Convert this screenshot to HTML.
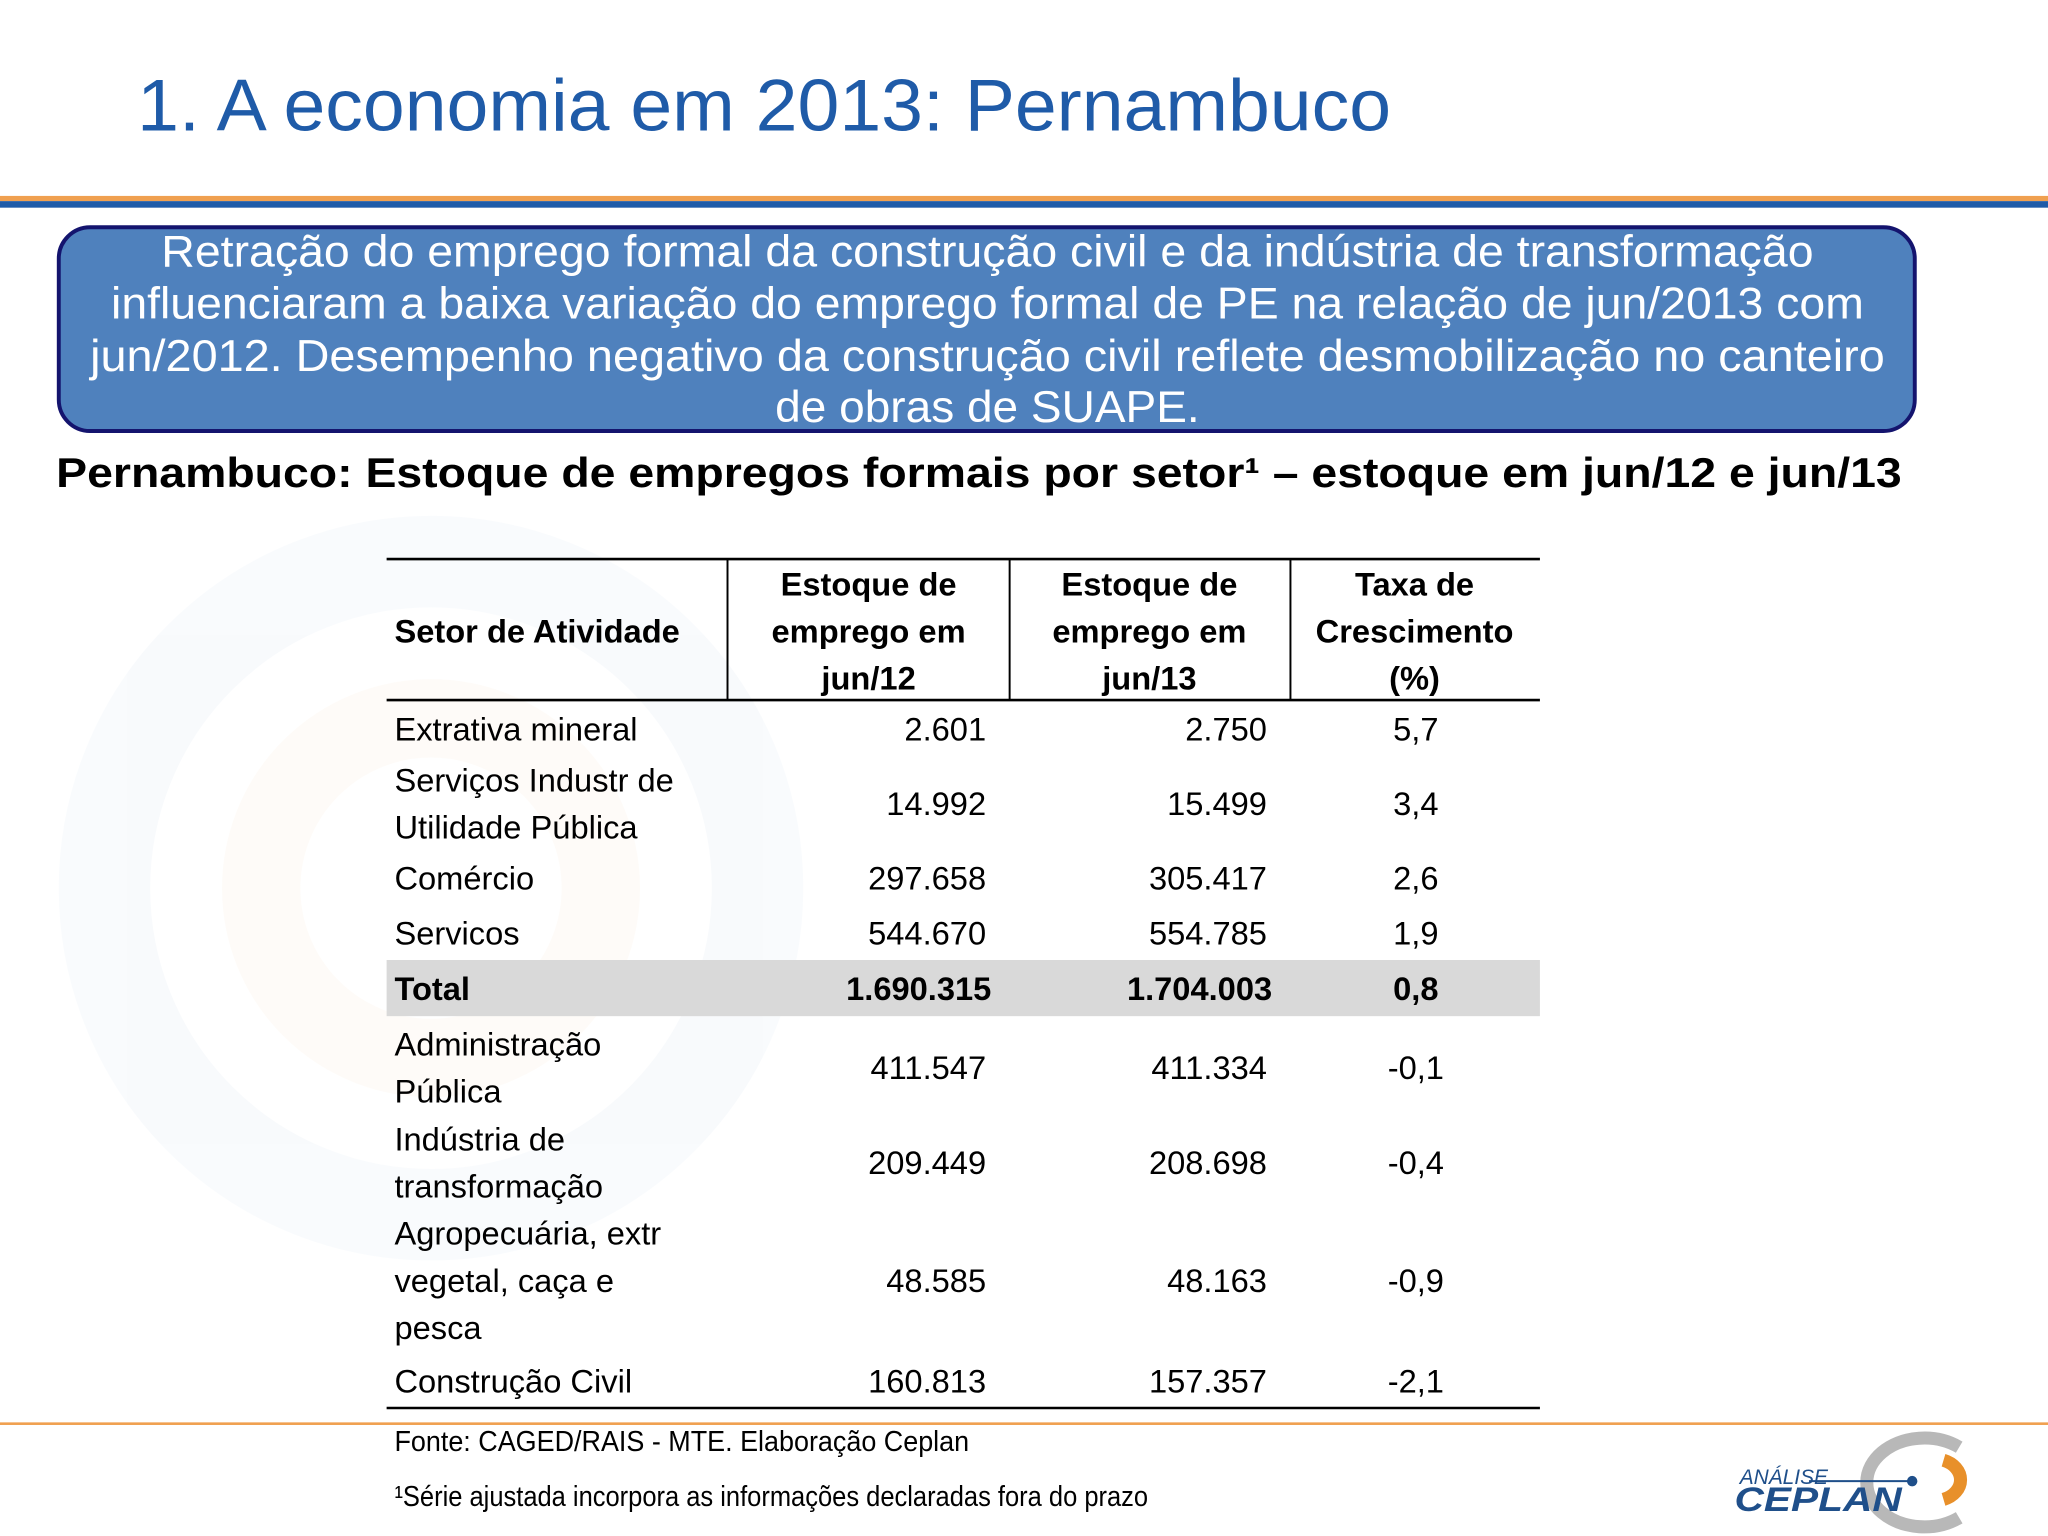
<!DOCTYPE html>
<html><head><meta charset="utf-8"><style>
html,body{margin:0;padding:0;background:#fff;}
svg{display:block;}
text{font-family:"Liberation Sans",sans-serif;}
</style></head><body>
<svg id="s" width="2048" height="1536" viewBox="0 0 1568 1176" xmlns="http://www.w3.org/2000/svg">
<g opacity="0.035">
<circle cx="330" cy="680" r="250" fill="none" stroke="#4f81bd" stroke-width="70"/>
<circle cx="330" cy="680" r="130" fill="none" stroke="#f0a050" stroke-width="60"/>
</g>
<text x="105" y="100" font-size="56" fill="#1f5ba8" textLength="960" lengthAdjust="spacingAndGlyphs">1. A economia em 2013: Pernambuco</text>
<rect x="0" y="150" width="1568" height="4" fill="#f0a050"/>
<rect x="0" y="154" width="1568" height="5" fill="#1f5ba8"/>
<g>
<rect x="45" y="174" width="1421" height="156" rx="24" fill="#4f81bd" stroke="#14146e" stroke-width="3"/>
<g font-size="34" fill="#fff" text-anchor="middle">
<text x="756" y="204" textLength="1265" lengthAdjust="spacingAndGlyphs">Retração do emprego formal da construção civil e da indústria de transformação</text>
<text x="756" y="244" textLength="1342" lengthAdjust="spacingAndGlyphs">influenciaram a baixa variação do emprego formal de PE na relação de jun/2013 com</text>
<text x="756" y="284" textLength="1374" lengthAdjust="spacingAndGlyphs">jun/2012. Desempenho negativo da construção civil  reflete desmobilização no canteiro</text>
<text x="756" y="323" textLength="325" lengthAdjust="spacingAndGlyphs">de obras de SUAPE.</text>
</g></g>
<text x="43" y="373" font-size="32" font-weight="bold" fill="#000" textLength="1413" lengthAdjust="spacingAndGlyphs">Pernambuco: Estoque de empregos formais por setor¹ – estoque em jun/12 e jun/13</text>
<g id="tbl"></g>
<rect x="0" y="1089" width="1568" height="2" fill="#f0a050"/>
<text x="302" y="1111" font-size="22" fill="#000" textLength="440" lengthAdjust="spacingAndGlyphs">Fonte: CAGED/RAIS - MTE. Elaboração Ceplan</text>
<text x="302" y="1153" font-size="22" fill="#000" textLength="577" lengthAdjust="spacingAndGlyphs">¹Série ajustada incorpora as informações declaradas fora do prazo</text>
<g>
<path d="M1500 1108 A44 34 0 1 0 1500 1162" fill="none" stroke="#b8b8b8" stroke-width="10"/>
<path d="M1488 1118 A20 16 0 0 1 1488 1148" fill="none" stroke="#e8902a" stroke-width="10"/>
<line x1="1385" y1="1134" x2="1462" y2="1134" stroke="#1f4f8a" stroke-width="1.5"/>
<circle cx="1464" cy="1134" r="4" fill="#1f4f8a"/>
<text x="1332" y="1136" font-size="16" font-style="italic" fill="#1f4f8a">ANÁLISE</text>
<text x="1328" y="1157" font-size="26" font-style="italic" font-weight="bold" fill="#1f4f8a" textLength="128" lengthAdjust="spacingAndGlyphs">CEPLAN</text>
</g>
</svg>
<script>
const sectors=[["Extrativa mineral"],["Serviços Industr de","Utilidade Pública"],["Comércio"],["Servicos"],["Total"],["Administração","Pública"],["Indústria de","transformação"],["Agropecuária, extr","vegetal, caça e","pesca"],["Construção Civil"]];
const jun12=["2.601","14.992","297.658","544.670","1.690.315","411.547","209.449","48.585","160.813"];
const jun13=["2.750","15.499","305.417","554.785","1.704.003","411.334","208.698","48.163","157.357"];
const growth=["5,7","3,4","2,6","1,9","0,8","-0,1","-0,4","-0,9","-2,1"];
const NS="http://www.w3.org/2000/svg";
const g=document.getElementById('tbl');
function mk(tag,attrs,txt){const e=document.createElementNS(NS,tag);for(const k in attrs)e.setAttribute(k,attrs[k]);if(txt!==undefined)e.textContent=txt;g.appendChild(e);return e;}
const L=296,R=1179;
let e=mk('line',{x1:L,y1:428,x2:R,y2:428,stroke:'#000','stroke-width':2});


[557,773,988].forEach(x=>{const l=mk('line',{x1:x,y1:428,x2:x,y2:536,stroke:'#000','stroke-width':1.5});

});
e=mk('line',{x1:L,y1:536,x2:R,y2:536,stroke:'#000','stroke-width':2});


const hdr=[[302,'start',[['Setor de Atividade',492]]],[665,'middle',[['Estoque de',456],['emprego em',492],['jun/12',528]]],[880,'middle',[['Estoque de',456],['emprego em',492],['jun/13',528]]],[1083,'middle',[['Taxa de',456],['Crescimento',492],['(%)',528]]]];
hdr.forEach(h=>h[2].forEach(t=>{const x=mk('text',{x:h[0],y:t[1],'text-anchor':h[1],'font-size':25,'font-weight':'bold',fill:'#000'},t[0]);

}));
const lineH=36;
const rowHeights=[42,72,42,42,43,78,68,112,42];
let y=537;
sectors.forEach((s,i)=>{
  const n=s.length;
  const rowH=rowHeights[i];
  const isTot=s[0]==='Total';
  if(isTot){const r=mk('rect',{x:L,y:y,width:R-L,height:rowH,fill:'#d9d9d9'});
  
  }
  const mid=y+rowH/2+9;
  const fw=isTot?'bold':'normal';
  s.forEach((t,j)=>{const tx=mk('text',{x:302,y:mid+(j-(n-1)/2)*lineH,'font-size':25,'font-weight':fw,fill:'#000'},t);
  
  });
  let a=mk('text',{x:isTot?759:755,y:mid,'text-anchor':'end','font-size':25,'font-weight':fw,fill:'#000'},jun12[i]);
  
  
  a=mk('text',{x:isTot?974:970,y:mid,'text-anchor':'end','font-size':25,'font-weight':fw,fill:'#000'},jun13[i]);
  
  
  a=mk('text',{x:1084,y:mid,'text-anchor':'middle','font-size':25,'font-weight':fw,fill:'#000'},growth[i]);
  
  
  y+=rowH;
});
e=mk('line',{x1:L,y1:1078,x2:R,y2:1078,stroke:'#000','stroke-width':2});


</script>
</body></html>
